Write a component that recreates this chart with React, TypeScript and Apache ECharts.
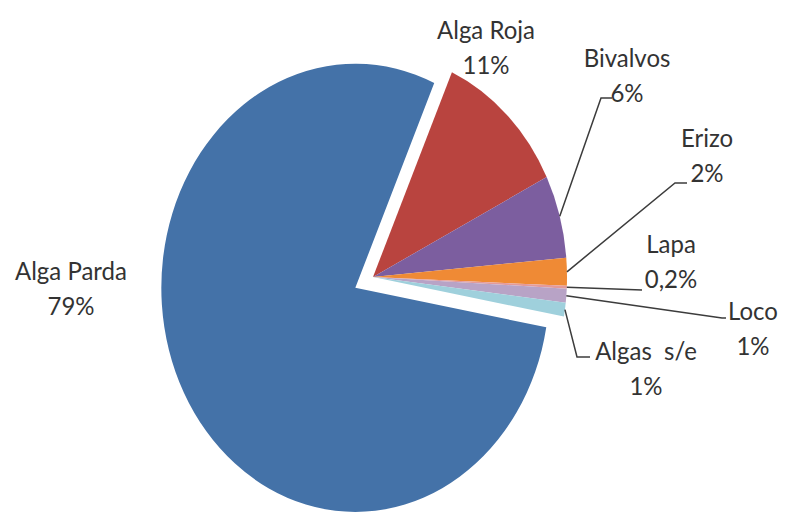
import React, { useEffect, useRef } from "react";
import * as echarts from "echarts";

// ---- data ----
const categories = ["Alga Roja", "Bivalvos", "Erizo", "Lapa", "Loco", "Algas  s/e", "Alga Parda"];
const values = [11, 6, 2, 0.2, 1, 1, 79];
const exploded = [false, false, false, false, false, false, true];

// ---- styles / layout ----
const colors = ["#B9443F", "#7C5E9F", "#EF8A35", "#E39A9A", "#B8A3C6", "#9FD0DC", "#4472A8"];
const CENTER = { x: 373, y: 277 };
const RADIUS = 194;
const SCALE_Y = 1.155;
const START_DEG = 24; // first slice starts 24° clockwise from 12 o'clock
const EXPLODE = 20;
const FONT = "24px Lato, 'Open Sans', sans-serif";
const TEXT_COLOR = "#333333";
const LINE_COLOR = "#3c3c3c";

// label centre and leader-line path (after the slice anchor)
const labelLayout: { x: number; y: number; path: number[][] }[] = [
  { x: 486, y: 46, path: [] },
  { x: 627, y: 74, path: [[601, 98], [612, 98]] },
  { x: 707, y: 154, path: [[675, 183], [687, 183]] },
  { x: 671, y: 260, path: [[642, 290]] },
  { x: 753, y: 327, path: [[722, 318], [726, 318]] },
  { x: 646, y: 367, path: [[577, 357], [590, 357]] },
  { x: 71, y: 287, path: [] },
];

function fmt(v: number) {
  return String(v).replace(".", ",") + "%";
}

export default function App() {
  const ref = useRef<HTMLDivElement>(null);
  useEffect(() => {
    if (!ref.current) return;
    const chart = echarts.init(ref.current, null, { renderer: "svg" });
    const total = values.reduce((a, b) => a + b, 0);
    const starts: number[] = [];
    let acc = START_DEG;
    values.forEach((v) => {
      starts.push(acc);
      acc += (v / total) * 360;
    });
    const toRad = (deg: number) => ((deg - 90) * Math.PI) / 180;

    const renderItem = (params: any, api: any) => {
      const i = params.dataIndex;
      const v = api.value(0);
      const a0 = starts[i];
      const a1 = a0 + (v / total) * 360;
      const mid = (a0 + a1) / 2;
      let cx = CENTER.x;
      let cy = CENTER.y;
      if (exploded[i]) {
        cx += EXPLODE * Math.sin((mid * Math.PI) / 180);
        cy += -EXPLODE * Math.cos((mid * Math.PI) / 180) * SCALE_Y;
      }
      const anchor = [
        cx + RADIUS * Math.sin((mid * Math.PI) / 180),
        cy - RADIUS * SCALE_Y * Math.cos((mid * Math.PI) / 180),
      ];
      const lay = labelLayout[i];
      const children: any[] = [
        {
          type: "group",
          x: cx,
          y: cy,
          scaleY: SCALE_Y,
          children: [
            {
              type: "sector",
              shape: { cx: 0, cy: 0, r: RADIUS, r0: 0, startAngle: toRad(a0), endAngle: toRad(a1), clockwise: true },
              style: { fill: colors[i] },
            },
          ],
        },
      ];
      if (lay.path.length) {
        children.push({
          type: "polyline",
          shape: { points: [anchor, ...lay.path] },
          style: { stroke: LINE_COLOR, lineWidth: 1.5, fill: null },
        });
      }
      children.push({
        type: "text",
        x: lay.x,
        y: lay.y,
        scaleY: 1.08,
        style: {
          text: categories[i] + "\n" + fmt(v),
          font: FONT,
          fill: TEXT_COLOR,
          align: "center",
          verticalAlign: "middle",
          lineHeight: 33,
        },
      });
      return { type: "group", children };
    };

    chart.setOption({
      animation: false,
      backgroundColor: "#ffffff",
      series: [
        {
          type: "custom",
          coordinateSystem: "none",
          silent: true,
          renderItem,
          data: values.map((v, i) => ({ name: categories[i], value: [v] })),
        },
      ],
    });
    return () => chart.dispose();
  }, []);
  return (
    <div
      ref={ref}
      style={{ position: "fixed", left: 0, top: 0, width: 785, height: 513, background: "#fff" }}
    />
  );
}
